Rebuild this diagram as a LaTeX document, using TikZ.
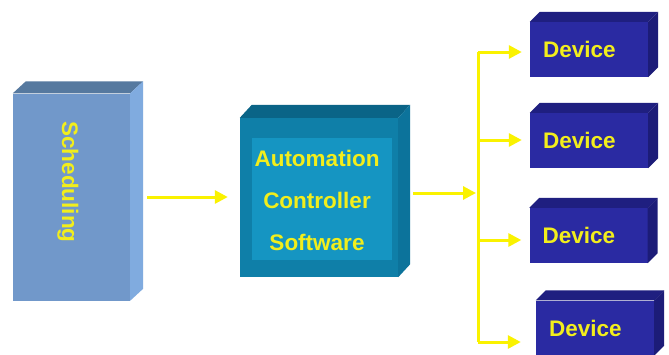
\documentclass[tikz,border=0pt]{standalone}
\usepackage{fontspec}
\setmainfont{Liberation Sans}
\usetikzlibrary{arrows.meta}
\definecolor{schedfront}{HTML}{7198CA}
\definecolor{schedtop}{HTML}{56799F}
\definecolor{schedside}{HTML}{80ABDF}
\definecolor{autofront}{HTML}{0F7FA8}
\definecolor{autopanel}{HTML}{1595C2}
\definecolor{autotop}{HTML}{0A6487}
\definecolor{autoside}{HTML}{0C739B}
\definecolor{devfront}{HTML}{2A2AA2}
\definecolor{devtop}{HTML}{1F1F80}
\definecolor{devside}{HTML}{1C1C78}
\definecolor{labelyellow}{HTML}{F2EE1C}
\definecolor{lineyellow}{HTML}{FAF200}
\begin{document}
\begin{tikzpicture}[x=1pt,y=-1pt,
  label text/.style={text=labelyellow, font=\bfseries\fontsize{22.5}{27}\selectfont},
  feed/.style={draw=lineyellow, line width=3pt, -{Triangle[length=13pt,width=13pt]}},
  trunk/.style={draw=lineyellow, line width=3pt},
  device/.style={rectangle, fill=devfront, minimum width=118pt, minimum height=55pt,
    text width=92pt, align=left, inner xsep=13pt, inner ysep=0pt, label text}]
\useasboundingbox [fill=white] (0,0) rectangle (669,354);
\node [rectangle, fill=schedfront, minimum width=117pt, minimum height=207pt] (sched) at (71.5,197) {};
\fill [schedtop] (sched.north west) -- ([shift={(13,-12)}]sched.north west) -- ([shift={(13,-12)}]sched.north east) -- (sched.north east) -- cycle;
\fill [schedside] (sched.north east) -- ([shift={(13,-12)}]sched.north east) -- ([shift={(13,-12)}]sched.south east) -- (sched.south east) -- cycle;
\node [label text, rotate=-90] (schedtext) at (68,182) {Scheduling};
\node [rectangle, fill=autofront, minimum width=158pt, minimum height=159pt] (auto) at (319,197.5) {};
\fill [autotop] (auto.north west) -- ([shift={(12,-13)}]auto.north west) -- ([shift={(12,-13)}]auto.north east) -- (auto.north east) -- cycle;
\fill [autoside] (auto.north east) -- ([shift={(12,-13)}]auto.north east) -- ([shift={(12,-13)}]auto.south east) -- (auto.south east) -- cycle;
\node [rectangle, fill=autopanel, minimum width=140pt, minimum height=122pt] (autopanel) at (322,199) {};
\node [label text, align=center, font=\bfseries\fontsize{22.5}{42}\selectfont] (autotext) at (317,200) {Automation\\Controller\\Software};
\node [device] (dev1) at (589,49.5) {Device};
\fill [devtop] (dev1.north west) -- ([shift={(10,-10)}]dev1.north west) -- ([shift={(10,-10)}]dev1.north east) -- (dev1.north east) -- cycle;
\fill [devside] (dev1.north east) -- ([shift={(10,-10)}]dev1.north east) -- ([shift={(10,-10)}]dev1.south east) -- (dev1.south east) -- cycle;
\node [device] (dev2) at (589,140.5) {Device};
\fill [devtop] (dev2.north west) -- ([shift={(10,-10)}]dev2.north west) -- ([shift={(10,-10)}]dev2.north east) -- (dev2.north east) -- cycle;
\fill [devside] (dev2.north east) -- ([shift={(10,-10)}]dev2.north east) -- ([shift={(10,-10)}]dev2.south east) -- (dev2.south east) -- cycle;
\node [device] (dev3) at (588.5,235.5) {Device};
\fill [devtop] (dev3.north west) -- ([shift={(10,-10)}]dev3.north west) -- ([shift={(10,-10)}]dev3.north east) -- (dev3.north east) -- cycle;
\fill [devside] (dev3.north east) -- ([shift={(10,-10)}]dev3.north east) -- ([shift={(10,-10)}]dev3.south east) -- (dev3.south east) -- cycle;
\node [device, inner xsep=11pt] (dev4) at (595,328) {Device};
\fill [devtop] (dev4.north west) -- ([shift={(10,-10)}]dev4.north west) -- ([shift={(10,-10)}]dev4.north east) -- (dev4.north east) -- cycle;
\fill [devside] (dev4.north east) -- ([shift={(10,-10)}]dev4.north east) -- ([shift={(10,-10)}]dev4.south east) -- (dev4.south east) -- cycle;
\coordinate (fork) at (478,193);
\coordinate (fork1) at (478,52);
\coordinate (fork2) at (478,140);
\coordinate (fork3) at (478,240);
\coordinate (fork4) at (478,342);
\draw [feed, shorten <=17pt, shorten >=12pt] (sched.east) -- (auto.west |- sched.east);
\draw [feed, shorten <=15pt, shorten >=2pt] (auto.east |- fork) -- (fork);
\draw [trunk] (fork1) -- (fork4);
\draw [feed, shorten >=8pt] (fork1) -- (fork1 -| dev1.west);
\draw [feed, shorten >=8pt] (fork2) -- (fork2 -| dev2.west);
\draw [feed, shorten >=8pt] (fork3) -- (fork3 -| dev3.west);
\draw [feed, shorten >=15pt] (fork4) -- (fork4 -| dev4.west);
\end{tikzpicture}
\end{document}
